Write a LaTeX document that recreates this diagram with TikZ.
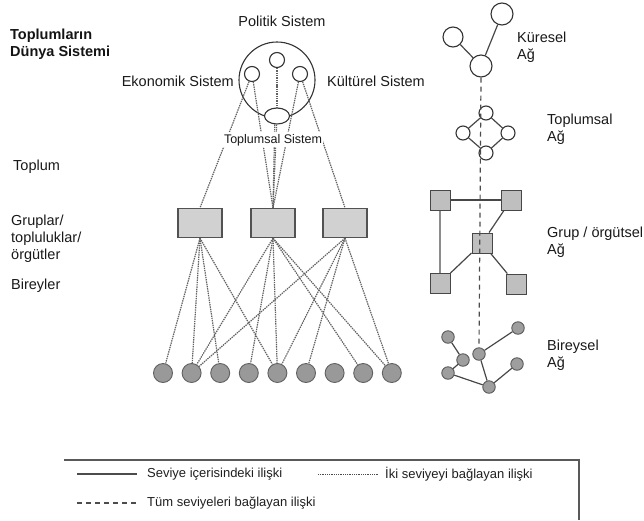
\documentclass[tikz,border=0pt]{standalone}
\usepackage{fontspec}
\setmainfont{Liberation Sans}
\usetikzlibrary{shapes.geometric}
\begin{document}
\begin{tikzpicture}[x=1pt,y=-1pt,
  lbl/.style={font=\fontsize{14.5}{17}\selectfont, text=black!90, inner sep=0pt},
  blbl/.style={font=\fontsize{14.5}{17}\selectfont\bfseries, text=black!92, inner sep=0pt},
  slbl/.style={font=\fontsize{12.5}{15}\selectfont, text=black!90, inner sep=1.5pt, fill=white},
  leg/.style={font=\fontsize{13}{15}\selectfont, text=black!88, inner sep=0pt},
  ring/.style={circle, draw=black!80, line width=1.1pt, fill=white, inner sep=0pt},
  dotl/.style={draw=black!62, line width=1.2pt, dash pattern=on 1.4pt off 0.9pt},
  netl/.style={draw=black!72, line width=1.2pt},
  grpbox/.style={draw=black!68, line width=1.3pt, fill=black!18, minimum width=44pt, minimum height=29pt, inner sep=0pt},
  ind/.style={circle, draw=black!62, line width=0.9pt, fill=black!40, minimum size=19pt, inner sep=0pt},
  sq/.style={draw=black!72, line width=1pt, fill=black!25, minimum size=20pt, inner sep=0pt},
  bcirc/.style={circle, draw=black!65, line width=0.9pt, fill=black!38, minimum size=12.5pt, inner sep=0pt},
  alll/.style={draw=black!70, line width=1.2pt, dash pattern=on 5pt off 4pt}
]
\useasboundingbox (0,0) rectangle (644,520);

% ---------- left labels ----------
\node[blbl, anchor=base west] (t1) at (10,39) {Toplumların};
\node[blbl, anchor=base west] (t2) at (10,56) {Dünya Sistemi};
\node[lbl, anchor=base west] (t3) at (13,170) {Toplum};
\node[lbl, anchor=base west] (t4) at (11,225) {Gruplar/};
\node[lbl, anchor=base west] (t5) at (11,242) {topluluklar/};
\node[lbl, anchor=base west] (t6) at (11,259) {örgütler};
\node[lbl, anchor=base west] (t7) at (11,289) {Bireyler};

% ---------- top system ----------
\node[lbl, anchor=base] (pol) at (282,26) {Politik Sistem};
\node[lbl, anchor=base east] (eko) at (234,86) {Ekonomik Sistem};
\node[lbl, anchor=base west] (kul) at (327,86) {Kültürel Sistem};

\node[circle, draw=black!80, line width=1.1pt, minimum size=76pt, inner sep=0pt] (big) at (277,80) {};
\node[ring, minimum size=15pt] (p1) at (277,60) {};
\node[ring, minimum size=15pt] (e1) at (252,74) {};
\node[ring, minimum size=15pt] (k1) at (300,74) {};
\node[ellipse, draw=black!80, line width=1.1pt, fill=white, minimum width=25pt, minimum height=16pt, inner sep=0pt] (ell) at (277,116) {};

% ---------- group boxes ----------
\node[grpbox] (b1) at (200,223) {};
\node[grpbox] (b2) at (273,223) {};
\node[grpbox] (b3) at (345,223) {};

% ---------- individuals ----------
\foreach \i in {1,...,9} {
  \node[ind] (c\i) at ({163+28.6*(\i-1)},373) {};
}

% ---------- dotted links between levels ----------
\draw[dotl] (p1) -- (ell);
\draw[dotl] (e1) -- (b1.north);
\draw[dotl] (e1) -- (b2.north);
\draw[dotl] (ell.255) -- (b2.north);
\draw[dotl] (ell) -- (b2.north);
\draw[dotl] (k1) -- (b2.north);
\draw[dotl] (k1) -- (b3.north);

\foreach \j in {1,2,3,5} { \draw[dotl] (b1.south) -- (c\j); }
\foreach \j in {2,4,5,8,9} { \draw[dotl] (b2.south) -- (c\j); }
\foreach \j in {2,5,6,9} { \draw[dotl] (b3.south) -- (c\j); }

\node[slbl, anchor=base] (tsis) at (273,143) {Toplumsal Sistem};

% ---------- right: networks ----------
% Küresel
\node[ring, minimum size=22pt] (kt) at (502,14) {};
\node[ring, minimum size=20pt] (kl) at (453,37) {};
\node[ring, minimum size=22pt] (kb) at (481,66) {};
\draw[netl] (kl) -- (kb);
\draw[netl] (kt) -- (kb);

% Toplumsal
\node[ring, minimum size=14pt] (tt) at (486,113) {};
\node[ring, minimum size=14pt] (tl) at (463,133) {};
\node[ring, minimum size=14pt] (tr) at (508,133) {};
\node[ring, minimum size=14pt] (tb) at (486,153) {};
\draw[netl] (tt) -- (tl) (tt) -- (tr) (tl) -- (tb) (tr) -- (tb);

% Grup
\node[sq] (gtl) at (440,200) {};
\node[sq] (gtr) at (511,200) {};
\node[sq] (gm) at (482,243) {};
\node[sq] (gbl) at (440,283) {};
\node[sq] (gbr) at (516,284) {};
\draw[netl] (gtl) -- (gtr);
\draw[draw=black!45, line width=1.1pt] (gtl) -- (gbl);
\draw[netl] (gtr) -- (gm);
\draw[netl] (gm) -- (gbl);
\draw[netl] (gm) -- (gbr);

% Bireysel
\node[bcirc] (ba) at (448,337) {};
\node[bcirc] (bb) at (463,360) {};
\node[bcirc] (bc) at (448,373) {};
\node[bcirc] (bd) at (489,387) {};
\node[bcirc] (be) at (479,354) {};
\node[bcirc] (bf) at (518,328) {};
\node[bcirc] (bg) at (517,364) {};
\draw[netl] (ba) -- (bb) (bb) -- (bc) (bc) -- (bd) (bd) -- (be) (be) -- (bf) (bd) -- (bg);

% all-level dashed link
\draw[alll] (kb.south) -- (be.north);

% right labels
\node[lbl, anchor=base west] (r1) at (517,42) {Küresel};
\node[lbl, anchor=base west] (r2) at (517,59) {Ağ};
\node[lbl, anchor=base west] (r3) at (547,124) {Toplumsal};
\node[lbl, anchor=base west] (r4) at (547,141) {Ağ};
\node[lbl, anchor=base west] (r5) at (547,237) {Grup / örgütsel};
\node[lbl, anchor=base west] (r6) at (547,254) {Ağ};
\node[lbl, anchor=base west] (r7) at (547,350) {Bireysel};
\node[lbl, anchor=base west] (r8) at (547,367) {Ağ};

% ---------- legend ----------
\coordinate (fa) at (64,460);
\coordinate (fb) at (579,460);
\coordinate (fc) at (579,520);
\draw[draw=black!65, line width=1.2pt] (fa) -- (fb) -- (fc);

\coordinate (l1a) at (77,474);
\coordinate (l1b) at (137,474);
\draw[draw=black!70, line width=1.1pt] (l1a) -- (l1b);
\node[leg, anchor=west] (lt1) at (147,474) {Seviye içerisindeki ilişki};

\coordinate (l2a) at (318,474);
\coordinate (l2b) at (378,474);
\draw[draw=black!70, line width=0.9pt, dash pattern=on 1pt off 0.8pt] (l2a) -- (l2b);
\node[leg, anchor=west] (lt2) at (385,474) {İki seviyeyi bağlayan ilişki};

\coordinate (l3a) at (77,503);
\coordinate (l3b) at (137,503);
\draw[alll] (l3a) -- (l3b);
\node[leg, anchor=west] (lt3) at (147,503) {Tüm seviyeleri bağlayan ilişki};

\end{tikzpicture}
\end{document}
